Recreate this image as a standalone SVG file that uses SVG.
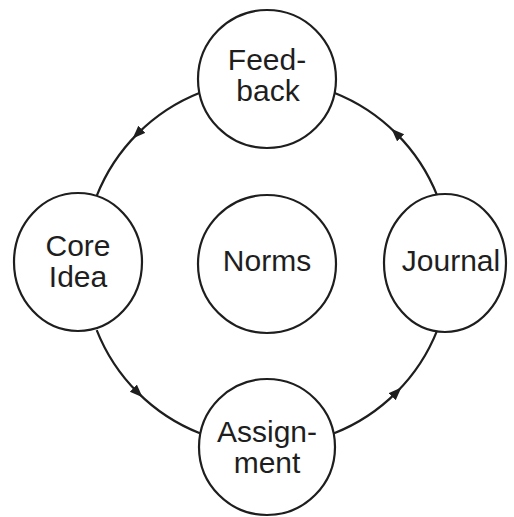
<svg xmlns="http://www.w3.org/2000/svg" width="514" height="517" viewBox="0 0 514 517">
  <style>
    .node { fill: #ffffff; stroke: #1e1e1e; stroke-width: 2.2; }
    .label { font-family: "Liberation Sans", Arial, Helvetica, sans-serif; font-size: 30px; fill: #1e1e1e; text-anchor: middle; }
    .edge { fill: none; stroke: #1e1e1e; stroke-width: 2.2; marker-mid: url(#arrow); }
  </style>
  <defs>
    <marker id="arrow" markerUnits="userSpaceOnUse" markerWidth="14" markerHeight="12" refX="6" refY="5" orient="auto">
      <path d="M0,0 L13,5 L0,10 z" fill="#1e1e1e"/>
    </marker>
  </defs>
  <rect width="514" height="517" fill="#ffffff"/>
  <g id="connectors">
    <path class="edge" d="M 199.9 92.7 A 183 183 0 0 0 137.6 133.6 A 183 183 0 0 0 96.7 195.9"/>
    <path class="edge" d="M 96.7 330.1 A 183 183 0 0 0 137.6 392.4 A 183 183 0 0 0 199.9 433.3"/>
    <path class="edge" d="M 334.1 433.3 A 183 183 0 0 0 396.4 392.4 A 183 183 0 0 0 437.3 330.1"/>
    <path class="edge" d="M 437.3 195.9 A 183 183 0 0 0 396.4 133.6 A 183 183 0 0 0 334.1 92.7"/>
  </g>
  <g id="feedback">
    <circle class="node" cx="267" cy="79" r="69"/>
    <text class="label" x="267" y="70">Feed-</text>
    <text class="label" x="268" y="101">back</text>
  </g>
  <g id="core-idea">
    <ellipse class="node" cx="78" cy="262" rx="64" ry="69"/>
    <text class="label" x="78" y="256">Core</text>
    <text class="label" x="78" y="287">Idea</text>
  </g>
  <g id="norms">
    <circle class="node" cx="267" cy="264" r="69"/>
    <text class="label" x="267" y="271">Norms</text>
  </g>
  <g id="journal">
    <ellipse class="node" cx="445" cy="263" rx="61" ry="69"/>
    <text class="label" x="451" y="271">Journal</text>
  </g>
  <g id="assignment">
    <circle class="node" cx="267" cy="447" r="68"/>
    <text class="label" x="267" y="442">Assign-</text>
    <text class="label" x="267" y="473">ment</text>
  </g>
</svg>
